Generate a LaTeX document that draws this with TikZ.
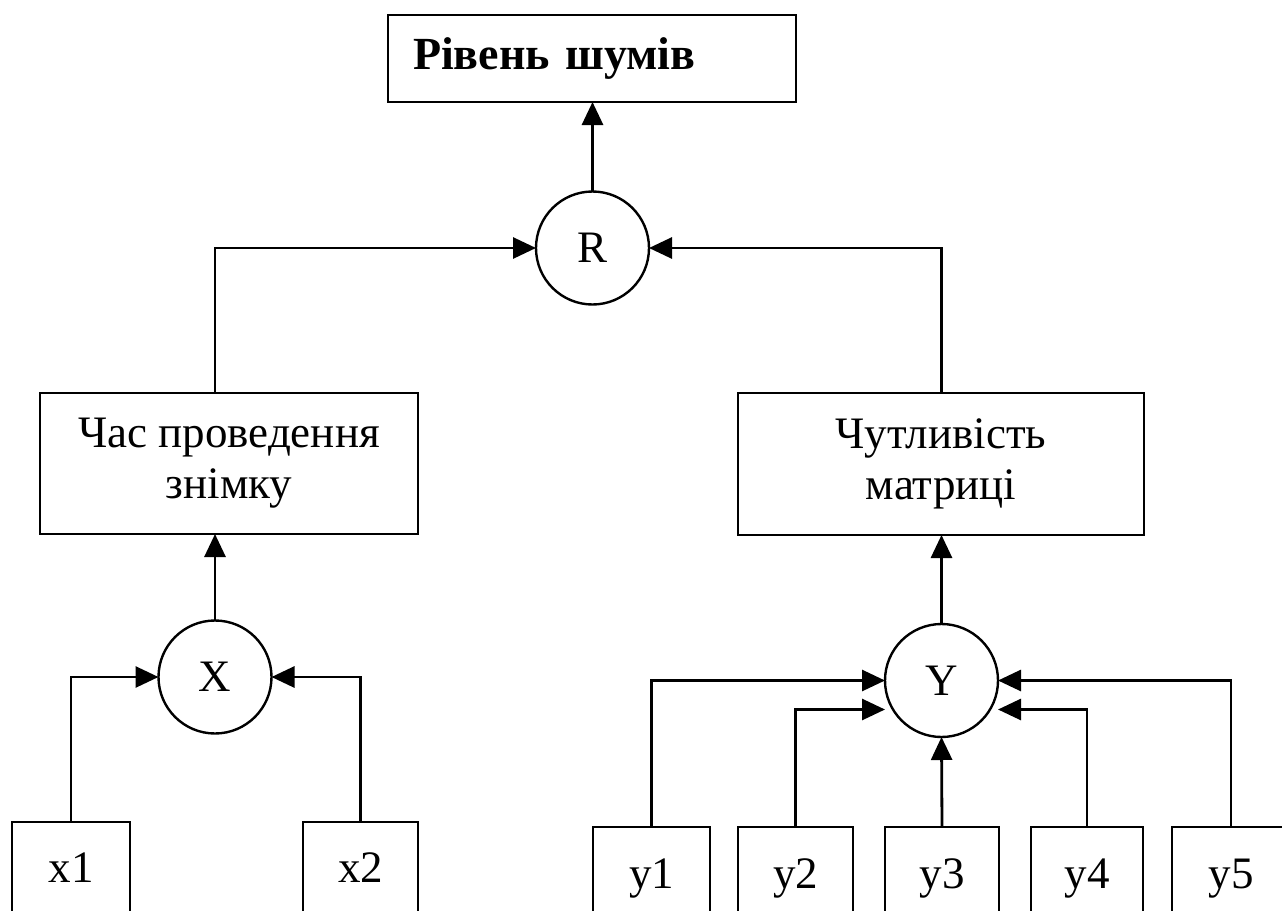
\documentclass[tikz,border=0pt]{standalone}
\usepackage{fontspec}
\setmainfont{Liberation Serif}
\usetikzlibrary{arrows.meta}
\begin{document}
\begin{tikzpicture}[x=1pt,y=-1pt,
  every node/.style={inner sep=0pt, outer sep=0pt},
  box/.style={draw, line width=2.8pt, rectangle, align=center,
    font=\fontsize{45}{51}\selectfont},
  leaf/.style={box, minimum height=108pt},
  sumnode/.style={draw, line width=2.4pt, circle, minimum size=113pt,
    font=\fontsize{45}{50}\selectfont},
  arr/.style={line width=2.8pt, -{Triangle[length=23pt,width=21pt]}}]
\useasboundingbox (0,0) rectangle (1282,910);
\clip (0,0) rectangle (1282,910);

% top result
\node[box, minimum width=408pt, minimum height=87pt, text width=358pt,
      align=left, inner xsep=25pt, font=\fontsize{46}{50}\selectfont\bfseries]
      (title) at (592,58.5) {Рівень шумів};
\node[sumnode] (R) at (592.5,248) {R};

% middle factors
\node[box, minimum width=378pt, minimum height=141pt] (L) at (229,463.5)
      {Час проведення\\знімку};
\node[box, minimum width=406pt, minimum height=142pt] (M) at (941,464)
      {Чутливість\\матриці};

\node[sumnode] (X) at (215,677) {X};
\node[sumnode] (Y) at (941.5,680.5) {Y};

% inputs
\node[leaf, minimum width=118pt] (x1) at (71,876) {\raisebox{16pt}{x1}};
\node[leaf, minimum width=115pt] (x2) at (360.5,876) {\raisebox{16pt}{x2}};
\node[leaf, minimum width=117pt] (y1) at (651.5,881) {\raisebox{14pt}{y1}};
\node[leaf, minimum width=115pt] (y2) at (795.5,881) {\raisebox{14pt}{y2}};
\node[leaf, minimum width=114pt] (y3) at (942,881) {\raisebox{14pt}{y3}};
\node[leaf, minimum width=112pt] (y4) at (1087,881) {\raisebox{14pt}{y4}};
\node[leaf, minimum width=118pt] (y5) at (1231,881) {\raisebox{14pt}{y5}};

% connectors
\draw[arr] (R.north) -- (R |- title.south);
\draw[arr] (X |- L.north) |- (R.west);
\draw[arr] (Y |- M.north) |- (R.east);
\draw[arr] (X.north) -- (X |- L.south);
\draw[arr] (Y.north) -- (Y |- M.south);

\draw[arr] (x1.north) |- (X.west);
\draw[arr] (x2.north) |- (X.east);

\draw[arr] (y1.north) |- (Y.west);
\draw[arr] (y2.north) |- ([yshift=-29pt]Y.west);
\draw[arr] (y3.north) -- (Y.south);
\draw[arr] (y4.north) |- ([yshift=-29pt]Y.east);
\draw[arr] (y5.north) |- (Y.east);
\end{tikzpicture}
\end{document}
